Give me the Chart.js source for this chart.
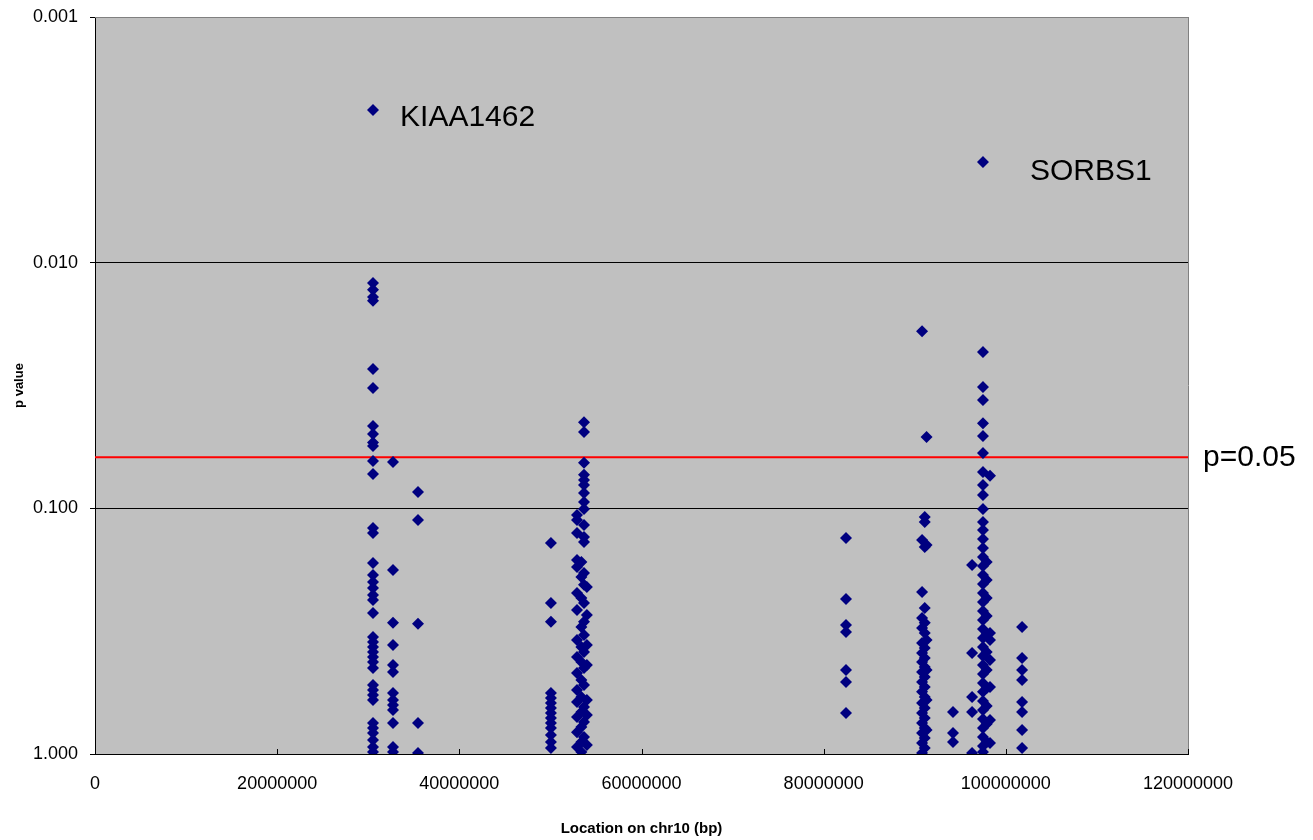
<!DOCTYPE html>
<html>
<head>
<meta charset="utf-8">
<script src="https://cdn.jsdelivr.net/npm/chart.js@4.4.1/dist/chart.umd.min.js"></script>
<style>
  html, body { margin: 0; padding: 0; background: #fff; }
  #wrap { width: 1313px; height: 840px; }
</style>
</head>
<body>
<div id="wrap"><canvas id="c" width="1313" height="840"></canvas></div>
<script>
// ---- Data ----
const xTickStep = 20000000;
const xMin = 0;
const xMax = 120000000;
const yTicks = [0.001, 0.01, 0.1, 1];
const thresholdP = 0.062;           // where the red "p=0.05" line sits in the picture
const thresholdLabel = 'p=0.05';

// SNP positions (bp) per column, and their p values
const locusPositions = [30520000, 32720000, 35460000, 50060000, 52920000, 53400000, 53690000, 54000000,
  82450000, 90800000, 91100000, 91300000, 94200000, 96290000, 97490000, 97900000, 98260000, 101780000];

const p30520000 = [0.00239, 0.0121, 0.0129, 0.0138, 0.0143, 0.0271, 0.0324, 0.0462, 0.0498, 0.0540, 0.0557, 0.0641, 0.0724,
  0.1203, 0.1260, 0.1668, 0.1867, 0.1994, 0.2109, 0.2253, 0.2361, 0.2667, 0.3340, 0.3500, 0.3668, 0.3844, 0.4027, 0.4221,
  0.4467, 0.5236, 0.5487, 0.5750, 0.6026, 0.7477, 0.7833, 0.8212, 0.8770, 0.9365, 0.981];
const p32720000 = [0.0647, 0.1783, 0.2925, 0.3599, 0.4339, 0.4637, 0.5642, 0.6026, 0.6316, 0.6619, 0.7477, 0.9365, 0.981];
const p35460000 = [0.0858, 0.1116, 0.2952, 0.7477, 0.990];
const p50060000 = [0.1384, 0.2428, 0.2898, 0.5642, 0.5913, 0.6198, 0.6494, 0.6808, 0.7132, 0.7477, 0.7833, 0.8368, 0.8936, 0.945];
const p52920000 = [0.1064, 0.1116, 0.1260, 0.1622, 0.1734, 0.2211, 0.2595, 0.3436, 0.4027, 0.4680, 0.5487, 0.6140, 0.7067, 0.8150, 0.9365];
const p53400000 = [0.1652, 0.1902, 0.2316, 0.3043, 0.3668, 0.4221, 0.4997, 0.5858, 0.6745, 0.7762, 0.8936, 0.981];
const p53690000 = [0.0446, 0.0489, 0.0653, 0.0730, 0.0767, 0.0804, 0.0866, 0.0942, 0.1006, 0.1170, 0.1308, 0.1371,
  0.1833, 0.2047, 0.2428, 0.2898, 0.3280, 0.3844, 0.4467, 0.5236, 0.6434, 0.7406, 0.8527];
const p54000000 = [0.2089, 0.2716, 0.3599, 0.4339, 0.6026, 0.6936, 0.919];
const p82450000 = [0.1320, 0.2339, 0.2986, 0.3188, 0.4551, 0.5091, 0.6808];
const p90800000 = [0.0190, 0.1345, 0.2190, 0.2795, 0.3072, 0.3533, 0.3880, 0.4221, 0.4637, 0.5091, 0.5580, 0.6198, 0.6808,
  0.7477, 0.8212, 0.9018, 0.990];
const p91100000 = [0.1085, 0.1137, 0.1436, 0.2545, 0.2925, 0.3218, 0.3703, 0.4066, 0.4425, 0.4860, 0.5336, 0.5858, 0.6494,
  0.7132, 0.7833, 0.8605, 0.945];
const p91300000 = [0.0513, 0.1410, 0.3436, 0.4551, 0.6026, 0.7983];
const p94200000 = [0.6745, 0.8212, 0.8936];
const p96290000 = [0.1701, 0.3880, 0.5858, 0.6745, 0.990];
const p97490000 = [0.00389, 0.0231, 0.0321, 0.0362, 0.0450, 0.0508, 0.0595, 0.0711, 0.0804, 0.0883, 0.1006, 0.1137, 0.1225,
  0.1333, 0.1451, 0.1578, 0.1717, 0.1867, 0.2032, 0.2211, 0.2405, 0.2617, 0.2848, 0.3100, 0.3372, 0.3668, 0.3990, 0.4339,
  0.4720, 0.5140, 0.5580, 0.6083, 0.6619, 0.7200, 0.7833, 0.8527, 0.928, 0.981];
const p97900000 = [0.1652, 0.1958, 0.2316, 0.2743, 0.3249, 0.3844, 0.4551, 0.5386, 0.6375, 0.7548, 0.8936];
const p98260000 = [0.0737, 0.3218, 0.3436, 0.4143, 0.5336, 0.7267, 0.9018];
const p101780000 = [0.3043, 0.4066, 0.4551, 0.4997, 0.6140, 0.6745, 0.7983, 0.945];

const locusPValues = [p30520000, p32720000, p35460000, p50060000, p52920000, p53400000, p53690000, p54000000,
  p82450000, p90800000, p91100000, p91300000, p94200000, p96290000, p97490000, p97900000, p98260000, p101780000];

// Text labels placed in data coordinates
const geneLabels = [
  { text: 'KIAA1462', x: 33490000, y: 0.00258 },
  { text: 'SORBS1', x: 102650000, y: 0.00428 }
];
const thresholdLabelX = 121650000;

// ---- Build chart ----
const points = [];
locusPositions.forEach((pos, i) => {
  locusPValues[i].forEach(p => points.push({ x: pos, y: p }));
});

const FONT = '"Liberation Sans", Arial, sans-serif';

const bgPlugin = {
  id: 'bg',
  beforeDraw(chart) {
    const { ctx, chartArea: a } = chart;
    ctx.save();
    ctx.fillStyle = '#C0C0C0';
    ctx.fillRect(a.left, a.top, a.right - a.left, a.bottom - a.top);
    ctx.restore();
  },
  beforeDatasetsDraw(chart) {
    const { ctx, chartArea: a, scales } = chart;
    ctx.save();
    ctx.strokeStyle = '#808080';
    ctx.lineWidth = 1;
    ctx.beginPath();
    ctx.moveTo(a.left, Math.round(a.top) + 0.5);
    ctx.lineTo(a.right, Math.round(a.top) + 0.5);
    ctx.moveTo(Math.round(a.right) + 0.5, a.top);
    ctx.lineTo(Math.round(a.right) + 0.5, a.bottom);
    ctx.stroke();
    // inward x ticks
    ctx.strokeStyle = '#000';
    ctx.beginPath();
    scales.x.ticks.forEach(t => {
      const px = Math.round(scales.x.getPixelForValue(t.value)) + 0.5;
      ctx.moveTo(px, a.bottom);
      ctx.lineTo(px, a.bottom - 5);
    });
    ctx.stroke();
    ctx.restore();
  },
  afterDatasetsDraw(chart) {
    const { ctx, scales } = chart;
    ctx.save();
    ctx.fillStyle = '#000';
    ctx.font = '30px ' + FONT;
    ctx.textBaseline = 'middle';
    ctx.textAlign = 'left';
    geneLabels.forEach(l => {
      ctx.fillText(l.text, scales.x.getPixelForValue(l.x), scales.y.getPixelForValue(l.y));
    });
    ctx.fillText(thresholdLabel, scales.x.getPixelForValue(thresholdLabelX), scales.y.getPixelForValue(thresholdP));
    ctx.restore();
  }
};

new Chart(document.getElementById('c'), {
  type: 'scatter',
  data: {
    datasets: [
      {
        label: 'SNPs',
        data: points,
        pointStyle: 'rectRot',
        pointRadius: 6,
        pointHoverRadius: 6,
        backgroundColor: '#000080',
        borderColor: '#000080',
        borderWidth: 0,
        order: 0
      },
      {
        type: 'line',
        label: 'threshold',
        data: [{ x: xMin, y: thresholdP }, { x: xMax, y: thresholdP }],
        borderColor: '#FF0000',
        borderWidth: 2,
        pointRadius: 0,
        fill: false,
        order: 1
      }
    ]
  },
  options: {
    responsive: false,
    animation: false,
    devicePixelRatio: 1,
    layout: { padding: { left: 0, right: 125, top: 17, bottom: 0 } },
    plugins: { legend: { display: false }, tooltip: { enabled: false } },
    scales: {
      x: {
        type: 'linear',
        min: xMin,
        max: xMax,
        afterFit(s) { s.height = 86; s.paddingLeft = 0; s.paddingRight = 0; },
        ticks: {
          stepSize: xTickStep,
          color: '#000',
          font: { family: FONT, size: 18 },
          padding: 19,
          maxRotation: 0,
          callback: v => String(v)
        },
        grid: { display: false, drawTicks: false },
        border: { display: true, color: '#000', width: 1 },
        title: {
          display: true,
          text: 'Location on chr10 (bp)',
          color: '#000',
          font: { family: FONT, size: 15, weight: 'bold' },
          padding: { top: 0, bottom: 2 }
        }
      },
      y: {
        type: 'logarithmic',
        min: 0.001,
        max: 1,
        reverse: true,
        afterFit(s) { s.width = 95; s.paddingTop = 0; s.paddingBottom = 0; },
        afterBuildTicks(s) { s.ticks = yTicks.map(v => ({ value: v })); },
        ticks: {
          color: '#000',
          font: { family: FONT, size: 18 },
          padding: 12,
          callback: v => Number(v).toFixed(3)
        },
        grid: {
          color: ctx => (ctx.tick && ctx.tick.value === 0.001) ? '#808080' : '#000',
          tickColor: '#000',
          lineWidth: 1,
          tickLength: 5,
          drawTicks: true
        },
        border: { display: true, color: '#000', width: 1 },
        title: {
          display: true,
          text: 'p value',
          color: '#000',
          font: { family: FONT, size: 13, weight: 'bold' },
          padding: { top: 12, bottom: 0 }
        }
      }
    }
  },
  plugins: [bgPlugin]
});
</script>
</body>
</html>
